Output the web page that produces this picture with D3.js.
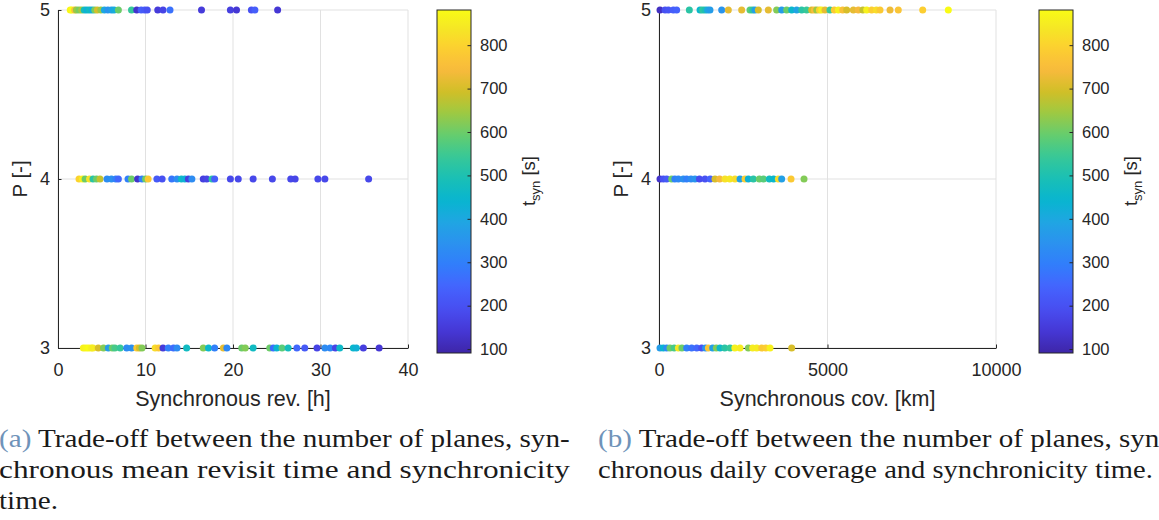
<!DOCTYPE html>
<html>
<head>
<meta charset="utf-8">
<script src="https://cdn.jsdelivr.net/npm/d3@7"></script>
<style>
  body { margin: 0; background: #fff; }
  svg { display: block; }
</style>
</head>
<body>
<svg id="fig" width="1159" height="520"></svg>
<script>
// ---- data: [value, t_syn (s)] for each number of planes P ----
const revP5 = [[1.4,870],[1.6,880],[1.9,760],[2.1,640],[2.4,610],[2.7,650],[3.0,480],[3.3,430],[3.6,470],[3.9,420],
  [4.2,610],[4.5,700],[4.9,640],[5.3,400],[5.7,350],[6.1,370],[6.4,410],[6.9,600],[8.4,540],[9.0,130],[9.5,230],
  [9.9,220],[10.2,200],[11.4,150],[12.0,170],[12.8,270],[16.4,150],[19.7,160],[20.4,140],[22.1,200],[22.5,230],[25.1,140]];
const revP4 = [[2.4,800],[2.8,860],[3.1,600],[3.6,830],[4.0,520],[4.4,600],[4.8,680],[5.6,330],[6.1,340],[6.6,300],
  [6.9,250],[8.0,300],[8.4,600],[9.1,130],[9.6,300],[10.0,600],[10.3,780],[11.3,220],[11.9,200],[13.0,280],[13.6,330],
  [14.1,460],[14.5,430],[14.9,160],[15.3,330],[16.6,160],[17.0,170],[17.6,520],[17.9,230],[19.7,180],[20.6,180],
  [22.3,180],[24.5,180],[26.6,180],[27.1,175],[29.7,180],[30.5,180],[35.5,180]];
const revP3 = [[2.9,860],[3.2,870],[3.5,880],[3.8,860],[4.0,850],[4.6,700],[5.2,620],[5.75,370],[6.2,600],[6.5,560],
  [7.1,540],[7.85,330],[8.4,340],[9.0,780],[9.3,700],[9.6,620],[11.1,820],[11.5,780],[12.0,150],[12.6,300],[13.2,260],
  [13.6,330],[14.7,470],[16.6,620],[17.2,450],[17.9,300],[18.9,720],[19.3,320],[21.0,600],[21.4,620],[22.3,470],
  [24.2,600],[24.6,260],[25.0,440],[25.6,580],[26.3,480],[27.3,250],[28.2,220],[29.6,170],[30.5,330],[31.1,320],
  [31.7,170],[32.2,460],[33.75,450],[34.1,430],[34.9,160],[36.7,140]];

const covP5 = [[30,120],[180,200],[277,210],[425,230],[524,240],[900,520],[1217,450],[1290,530],[1365,500],[1440,400],
  [1513,370],[1860,350],[2057,720],[2453,720],[2700,580],[2780,530],[2849,380],[2947,700],[3244,720],[3491,620],
  [3640,370],[3788,600],[3937,450],[4085,390],[4234,520],[4380,540],[4530,700],[4610,750],[4679,640],[4760,800],
  [4827,860],[4926,720],[5074,540],[5200,780],[5322,860],[5450,760],[5569,700],[5767,720],[5915,740],[6050,680],
  [6162,860],[6311,790],[6450,820],[6558,780],[6855,730],[7101,770],[7825,790],[8585,880]];
const covP4 = [[30,130],[129,200],[228,220],[376,600],[470,300],[574,320],[722,340],[821,300],[950,330],[1068,350],
  [1200,190],[1365,200],[1520,240],[1662,700],[1800,740],[1958,830],[2100,840],[2255,820],[2404,380],[2553,790],
  [2650,430],[2800,520],[2978,600],[3100,580],[3275,470],[3400,450],[3541,820],[3640,380],[3918,780],[4303,620]];
const covP3 = [[30,370],[129,440],[230,330],[326,600],[450,560],[574,840],[680,600],[821,300],[969,270],[1120,250],
  [1266,200],[1380,350],[1464,770],[1593,380],[1700,620],[1810,460],[1950,520],[2107,540],[2250,860],[2404,850],
  [2651,620],[2780,850],[2899,850],[3047,780],[3170,790],[3294,860],[3937,700]];

const planeTicks = [3, 4, 5];
const revTicks = [0, 10, 20, 30, 40];
const covTicks = [0, 5000, 10000];
const tsynTicks = [100, 200, 300, 400, 500, 600, 700, 800];
const tsynLimits = [91, 881];

const captionA = ["Trade-off between the number of planes, syn-",
                  "chronous mean revisit time and synchronicity",
                  "time."];
const captionB = ["Trade-off between the number of planes, syn-",
                  "chronous daily coverage and synchronicity time."];

// parula colormap stops
const parula = [[0.2422,0.1504,0.6603],[0.2706,0.2147,0.8364],[0.2813,0.3006,0.9414],[0.2699,0.3892,0.9906],
  [0.1963,0.4847,0.9892],[0.1687,0.5703,0.9359],[0.1248,0.6459,0.8883],[0.0297,0.7082,0.8163],
  [0.0964,0.7500,0.7120],[0.2161,0.7843,0.5923],[0.3909,0.8029,0.4354],[0.6174,0.7876,0.2612],
  [0.8203,0.7498,0.1535],[0.9728,0.7298,0.2394],[0.9892,0.8136,0.1885],[0.9597,0.9135,0.1423],
  [0.9769,0.9839,0.0805]];
const parulaPos = parula.map((_, i) => Math.min(i * 4, 63) / 63);
parulaPos[parulaPos.length - 1] = 1;
const parulaHex = parula.map(c => d3.rgb(c[0]*255, c[1]*255, c[2]*255).formatHex());
const parulaScale = d3.scaleLinear().domain(parulaPos).range(parulaHex).interpolate(d3.interpolateRgb).clamp(true);
const colorOf = d3.scaleLinear().domain(tsynLimits).range([0, 1]).clamp(true);

const svg = d3.select("#fig");
svg.append("rect").attr("width", 1159).attr("height", 520).attr("fill", "#fff");

const defs = svg.append("defs");
const grad = defs.append("linearGradient").attr("id", "parulaGrad")
  .attr("x1", 0).attr("y1", 1).attr("x2", 0).attr("y2", 0);
d3.range(0, 1.0001, 0.02).forEach(t => {
  grad.append("stop").attr("offset", t).attr("stop-color", parulaScale(t));
});

const INK = "#262626";
const SANS = "'Liberation Sans', Arial, sans-serif";
const TICK_FS = 18, LABEL_FS = 21.5, CB_TICK_FS = 16.5, CB_LABEL_FS = 18.5;
const yTop = 10, yBot = 348;

function drawPanel(cfg) {
  const g = svg.append("g");
  const x = d3.scaleLinear().domain(cfg.xDomain).range([cfg.x0, cfg.x1]);
  const y = d3.scaleLinear().domain([3, 5]).range([yBot, yTop]);

  // grid
  const grid = g.append("g").attr("stroke", "#e1e1e1").attr("stroke-width", 1);
  cfg.xTicks.forEach(t => grid.append("line")
    .attr("x1", x(t)).attr("x2", x(t)).attr("y1", y(3)).attr("y2", y(5)));
  planeTicks.forEach(t => grid.append("line")
    .attr("x1", x.range()[0]).attr("x2", x.range()[1]).attr("y1", y(t)).attr("y2", y(t)));

  // axes
  const ax = g.append("g").attr("transform", `translate(0,${yBot})`)
    .call(d3.axisBottom(x).tickValues(cfg.xTicks).tickFormat(d3.format("d"))
      .tickSizeInner(-3.5).tickSizeOuter(0).tickPadding(15));
  const ay = g.append("g").attr("transform", `translate(${cfg.x0},0)`)
    .call(d3.axisLeft(y).tickValues(planeTicks).tickFormat(d3.format("d"))
      .tickSizeInner(-3.5).tickSizeOuter(0).tickPadding(8));
  [ax, ay].forEach(a => {
    a.selectAll("path, line").attr("stroke", INK);
    a.selectAll("text").attr("fill", INK).style("font-family", SANS).style("font-size", TICK_FS + "px");
  });

  g.append("text")
    .attr("x", (cfg.x0 + cfg.x1) / 2).attr("y", 406)
    .attr("text-anchor", "middle").attr("fill", INK)
    .style("font-family", SANS).style("font-size", LABEL_FS + "px")
    .text(cfg.xLabel);
  g.append("text")
    .attr("transform", `translate(${cfg.x0 - 38},${y(4)}) rotate(-90)`)
    .attr("text-anchor", "middle").attr("dy", "0.35em").attr("fill", INK)
    .style("font-family", SANS).style("font-size", (LABEL_FS - 1) + "px")
    .text("P [-]");

  // scatter points, one row per number of planes
  const pts = g.append("g");
  cfg.rows.forEach(([p, rows]) => {
    pts.selectAll(null).data(rows).enter().append("circle")
      .attr("cx", d => x(d[0])).attr("cy", y(p)).attr("r", 3.5)
      .attr("fill", d => parulaScale(colorOf(d[1])));
  });

  // colorbar
  const cb = d3.scaleLinear().domain(tsynLimits).range([353, 10]);
  const cbW = 34;
  const cg = g.append("g");
  cg.append("rect").attr("x", cfg.cbX).attr("y", 10).attr("width", cbW).attr("height", 343)
    .attr("fill", "url(#parulaGrad)");
  const ca = cg.append("g").attr("transform", `translate(${cfg.cbX + cbW},0)`)
    .call(d3.axisRight(cb).tickValues(tsynTicks).tickSizeInner(-3.5).tickSizeOuter(0).tickPadding(9));
  ca.select(".domain").remove();
  ca.selectAll("line").attr("stroke", INK);
  ca.selectAll("text").attr("fill", INK).style("font-family", SANS).style("font-size", CB_TICK_FS + "px");
  cg.append("rect").attr("x", cfg.cbX).attr("y", 10).attr("width", cbW).attr("height", 343)
    .attr("fill", "none").attr("stroke", INK).attr("stroke-width", 1);
  const lab = cg.append("text")
    .attr("transform", `translate(${cfg.cbX + 98},181) rotate(-90)`)
    .attr("text-anchor", "middle").attr("fill", INK)
    .style("font-family", SANS).style("font-size", CB_LABEL_FS + "px");
  lab.append("tspan").text("t");
  lab.append("tspan").attr("dy", 5).style("font-size", "13px").text("syn");
  lab.append("tspan").attr("dy", -5).text(" [s]");

  // caption: each line is scaled horizontally to its set width
  const SERIF = "'Liberation Serif', 'Times New Roman', serif";
  const capG = g.append("g");
  cfg.caption.forEach((line, i) => {
    const t = capG.append("text")
      .attr("fill", "#1a1a1a").style("font-family", SERIF).style("font-size", "25px");
    if (i === 0) {
      t.append("tspan").attr("fill", "#6f93b9").text(cfg.tag);
      t.append("tspan").text(" " + line);
    } else {
      t.text(line);
    }
    const w = t.node().getComputedTextLength();
    const s = cfg.capWidths[i] ? cfg.capWidths[i] / w : cfg.capScale;
    if (i === 0) cfg.capScale = s;
    t.attr("transform", `translate(${cfg.capX},${447 + i * 31}) scale(${i === 0 || cfg.capWidths[i] ? s : cfg.capScale},1)`);
  });
}

drawPanel({
  x0: 58, x1: 408, xDomain: [0, 40], xTicks: revTicks,
  xLabel: "Synchronous rev. [h]",
  rows: [[3, revP3], [4, revP4], [5, revP5]],
  cbX: 437,
  tag: "(a)", caption: captionA, capX: -1, capWidths: [571, 571, 0]
});
drawPanel({
  x0: 659, x1: 996, xDomain: [0, 10000], xTicks: covTicks,
  xLabel: "Synchronous cov. [km]",
  rows: [[3, covP3], [4, covP4], [5, covP5]],
  cbX: 1039,
  tag: "(b)", caption: captionB, capX: 598, capWidths: [571, 555]
});
</script>
</body>
</html>
